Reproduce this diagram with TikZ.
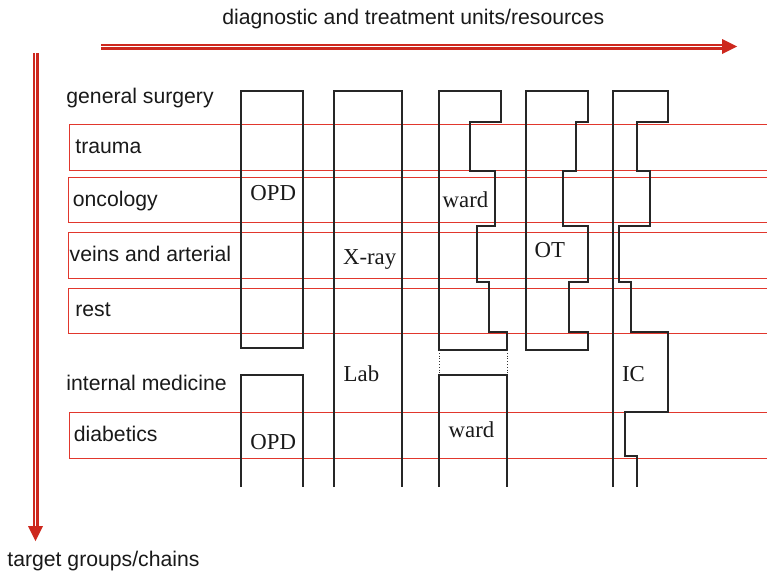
\documentclass[tikz,border=0pt]{standalone}
\usepackage{fontspec}
\setmainfont{Liberation Serif}
\setsansfont{Liberation Sans}
\usepackage{xcolor}
\usepackage{tikz}

\definecolor{chainred}{RGB}{205,40,30}
\definecolor{grpred}{RGB}{225,55,45}

\begin{document}
\begin{tikzpicture}[x=0.5pt, y=-0.5pt,
    grp/.style={draw=grpred, line width=0.45pt},
    unit/.style={draw=black!85, line width=0.65pt},
    axis/.style={draw=chainred, double=white, double distance=0.9pt, line width=1.05pt},
    txt/.style={font=\sffamily\fontsize{10.6}{12}\selectfont, text=black!90, anchor=base west, inner sep=0pt},
    res/.style={font=\fontsize{11.4}{13}\selectfont, text=black!90, anchor=base west, inner sep=0pt}]

    \useasboundingbox (0,0) rectangle (767,573);

    % axes
    \coordinate (hstart) at (101,46.5);
    \coordinate (htip) at (737,46.5);
    \coordinate (vstart) at (35.5,53);
    \coordinate (vtip) at (35.5,541);
    \draw[axis] (hstart) -- ([xshift=-7pt]htip);
    \fill[chainred] (htip) -- ++(-15,-7.5) -- ++(0,15) -- cycle;
    \draw[axis] (vstart) -- ([yshift=7pt]vtip);
    \fill[chainred] (vtip) -- ++(-7.5,-15) -- ++(15,0) -- cycle;

    \node[txt] (title) at (222,25) {diagnostic and treatment units/resources};
    \node[txt] (target) at (7,566) {target groups/chains};

    % target groups (open to the right)
    \draw[grp] (767,124) -| (69,170) -- (767,170);
    \draw[grp] (767,177) -| (68,222) -- (767,222);
    \draw[grp] (767,232) -| (68,278) -- (767,278);
    \draw[grp] (767,288) -| (68,333) -- (767,333);
    \draw[grp] (767,412) -| (69,458) -- (767,458);

    \node[txt] (gs) at (66,103.3) {general surgery};
    \node[txt] (trauma) at (75,153.3) {trauma};
    \node[txt] (onc) at (72.5,206) {oncology};
    \node[txt] (veins) at (69.3,261.7) {veins and arterial};
    \node[txt] (rest) at (75,316.7) {rest};
    \node[txt] (im) at (66,390.7) {internal medicine};
    \node[txt] (diab) at (73.5,441.7) {diabetics};

    % OPD
    \draw[unit] (241,91) rectangle (303,348);
    \draw[unit] (241,487) -- (241,375) -- (303,375) -- (303,487);
    % X-ray / Lab
    \draw[unit] (334,487) -- (334,91) -- (402,91) -- (402,487);
    % ward
    \draw[unit] (439,91) -- (501,91) |- (470,122) |- (495,171) |- (477,226)
        |- (489,282) |- (507,332) |- (439,350) -- cycle;
    \draw[black!80, densely dotted, line width=0.4pt] (439,350) -- (439,375) (507,350) -- (507,375);
    \draw[unit] (439,487) -- (439,375) -- (507,375) -- (507,487);
    % OT
    \draw[unit] (526,91) -- (588,91) |- (576,122) |- (563,171) |- (588,226)
        |- (569,282) |- (588,332) |- (526,350) -- cycle;
    % IC
    \draw[unit] (613,487) -- (613,91) -- (668,91) |- (637,122) |- (650,171) |- (619,226)
        |- (631,282) |- (668,332) |- (625,412) |- (637,456) -- (637,487);

    \node[res] (opd1) at (250,200.7) {OPD};
    \node[res] (xray) at (342.7,264) {X-ray};
    \node[res] (ward1) at (442.3,207.7) {ward};
    \node[res] (ot) at (534.3,257.3) {OT};
    \node[res] (lab) at (343.3,381.7) {Lab};
    \node[res] (ic) at (621.7,381.7) {IC};
    \node[res] (opd2) at (250,449.3) {OPD};
    \node[res] (ward2) at (448.3,437.7) {ward};
\end{tikzpicture}
\end{document}
